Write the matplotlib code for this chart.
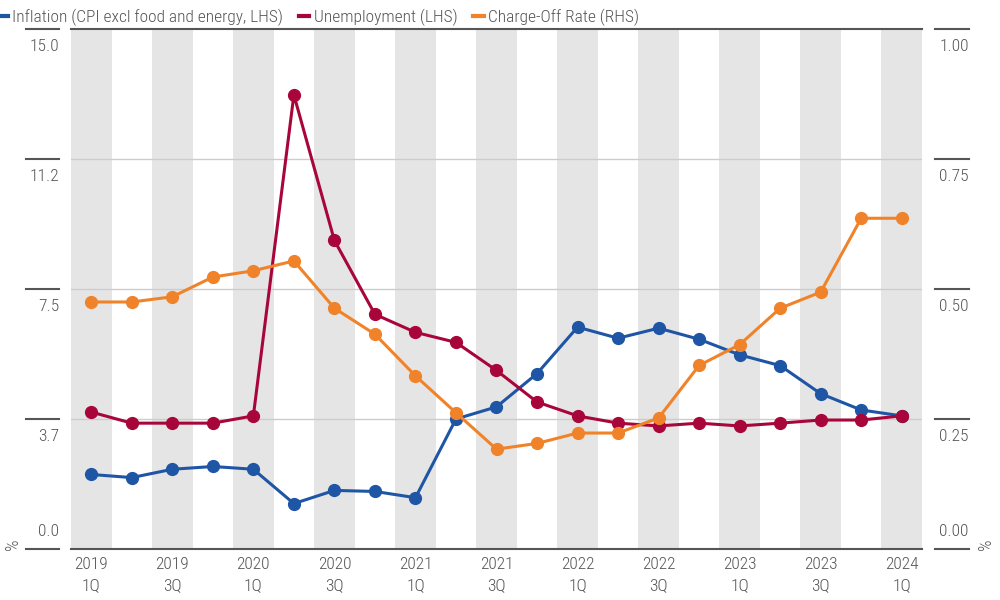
import numpy as np
import matplotlib.pyplot as plt
from matplotlib.lines import Line2D

plt.rcParams['font.family'] = ['Roboto Condensed', 'Liberation Sans Narrow', 'Roboto', 'DejaVu Sans']
plt.rcParams['font.weight'] = 'light'

# ── data ──
quarters = ["2019\n1Q", "", "2019\n3Q", "", "2020\n1Q", "", "2020\n3Q", "",
            "2021\n1Q", "", "2021\n3Q", "", "2022\n1Q", "", "2022\n3Q", "",
            "2023\n1Q", "", "2023\n3Q", "", "2024\n1Q"]
inflation = [2.15, 2.06, 2.3, 2.38, 2.3, 1.31, 1.69, 1.66, 1.48, 3.75, 4.1,
             5.06, 6.4, 6.08, 6.37, 6.05, 5.6, 5.29, 4.48, 4.01, 3.84]
unemployment = [3.95, 3.63, 3.63, 3.63, 3.84, 13.1, 8.9, 6.77, 6.25, 5.96, 5.15,
                4.24, 3.84, 3.63, 3.55, 3.63, 3.55, 3.63, 3.72, 3.72, 3.84]
charge_off = [0.475, 0.475, 0.485, 0.523, 0.535, 0.554, 0.463, 0.413, 0.333, 0.262,
              0.192, 0.203, 0.223, 0.223, 0.252, 0.353, 0.393, 0.463, 0.494, 0.636, 0.636]
left_ticks = [0, 3.75, 7.5, 11.25, 15]
left_labels = ["0.0", "3.7", "7.5", "11.2", "15.0"]
right_ticks = [0, 0.25, 0.5, 0.75, 1.0]
right_labels = ["0.00", "0.25", "0.50", "0.75", "1.00"]

BLUE, RED, ORANGE = "#1F55A5", "#A8063A", "#F0832A"
TXT = "#555555"
FS = 12.5

fig = plt.figure(figsize=(10, 6), dpi=100)
ax = fig.add_axes([0.071, 0.085, 0.851, 0.8667])
x = np.arange(len(quarters))

for i in range(0, len(quarters), 2):
    ax.axvspan(i - 0.5, i + 0.5, color="#e5e5e5", lw=0, zorder=0)
for v in left_ticks[1:-1]:
    ax.axhline(v, color="#cccccc", lw=1, zorder=1)

ax.plot(x, inflation, "-o", color=BLUE, lw=2.2, ms=8.5, zorder=3)
ax.plot(x, unemployment, "-o", color=RED, lw=2.2, ms=8.5, zorder=3)
ax.set_xlim(-0.5, len(quarters) - 0.5)
ax.set_ylim(0, 15)

ax2 = ax.twinx()
ax2.plot(x, charge_off, "-o", color=ORANGE, lw=2.2, ms=8.5, zorder=3)
ax2.set_ylim(0, 1)

for a in (ax, ax2):
    for s in ("left", "right"):
        a.spines[s].set_visible(False)
    a.set_yticks([])
ax2.spines["top"].set_visible(False)
ax2.spines["bottom"].set_visible(False)
for s in ("top", "bottom"):
    ax.spines[s].set_color(TXT)
    ax.spines[s].set_linewidth(1.5)

ax.set_xticks(x, quarters, fontsize=FS, color=TXT, linespacing=1.45)
ax.tick_params(axis="x", length=0, pad=6)

# custom y ticks outside plot area
tl = ax.get_yaxis_transform()
tr = ax2.get_yaxis_transform()
for v, lab in zip(left_ticks, left_labels):
    ax.plot([-0.053, -0.014], [v, v], color=TXT, lw=1.5, transform=tl, clip_on=False)
    if v == 0:
        ax.text(-0.014, v, lab + "\n", ha="right", va="bottom", fontsize=FS,
                color=TXT, transform=tl, linespacing=0.6)
    else:
        ax.text(-0.014, v, "\n" + lab, ha="right", va="top", fontsize=FS,
                color=TXT, transform=tl, linespacing=0.6)
for v, lab in zip(right_ticks, right_labels):
    ax2.plot([1.015, 1.055], [v, v], color=TXT, lw=1.5, transform=tr, clip_on=False)
    if v == 0:
        ax2.text(1.055, v, lab + "\n", ha="right", va="bottom", fontsize=FS,
                 color=TXT, transform=tr, linespacing=0.6)
    else:
        ax2.text(1.055, v, "\n" + lab, ha="right", va="top", fontsize=FS,
                 color=TXT, transform=tr, linespacing=0.6)

fig.text(0.013, 0.093, "%", rotation=90, ha="center", va="center", fontsize=13, color=TXT)
fig.text(0.986, 0.093, "%", rotation=90, ha="center", va="center", fontsize=13, color=TXT)

handles = [Line2D([], [], color=BLUE, lw=3),
           Line2D([], [], color=RED, lw=3),
           Line2D([], [], color=ORANGE, lw=3)]
labels = ["Inflation (CPI excl food and energy, LHS)", "Unemployment (LHS)",
          "Charge-Off Rate (RHS)"]
leg = fig.legend(handles, labels, loc="upper left", bbox_to_anchor=(-0.018, 1.012),
                 ncol=3, frameon=False, handlelength=0.6, handletextpad=0.25,
                 columnspacing=0.9, fontsize=FS)
for t in leg.get_texts():
    t.set_color(TXT)

fig.savefig("out.png", dpi=100)
